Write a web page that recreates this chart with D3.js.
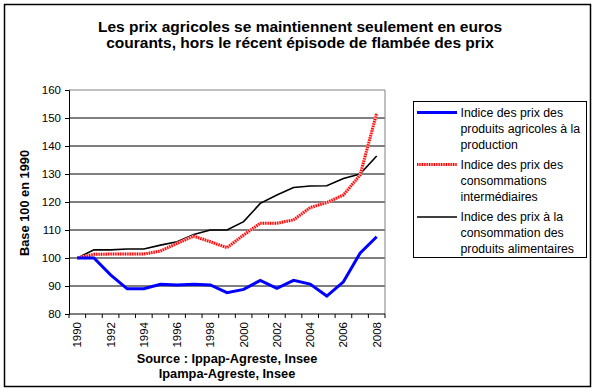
<!DOCTYPE html>
<html><head><meta charset="utf-8">
<script src="https://cdn.jsdelivr.net/npm/d3@7"></script>
<style>body{margin:0;background:#fff}svg{display:block;font-family:"Liberation Sans",Arial,sans-serif}</style>
</head><body><svg id="c" width="597" height="392"></svg>
<script>
const years = [1990,1991,1992,1993,1994,1995,1996,1997,1998,1999,2000,2001,2002,2003,2004,2005,2006,2007,2008];
const agri = [100,100,94,89,89,90.6,90.4,90.6,90.4,87.6,88.8,92,89.2,92,90.7,86.4,91.5,101.7,107.6];
const conso = [100,101.3,101.4,101.4,101.4,102.5,105.2,107.8,105.8,103.7,108.2,112.4,112.4,113.6,118,119.8,122.5,129.6,151.7];
const alim = [100,102.9,102.9,103.2,103.2,104.6,105.8,108.4,110,110,113,119.5,122.5,125.2,125.7,125.8,128.4,130,136.4];
const yTicks = [80,90,100,110,120,130,140,150,160];
const xTickLabels = [1990,1992,1994,1996,1998,2000,2002,2004,2006,2008];
const seriesNames = [
  ["Indice des prix des","produits agricoles à la","production"],
  ["Indice des prix des","consommations","intermédiaires"],
  ["Indice des prix à la","consommation des","produits alimentaires"]
];
const titleLines = ["Les prix agricoles se maintiennent seulement en euros","courants, hors le récent épisode de flambée des prix"];
const sourceLines = ["Source : Ippap-Agreste, Insee","Ipampa-Agreste, Insee"];

const svg = d3.select("#c");
svg.append("rect").attr("x",4.5).attr("y",4.5).attr("width",586).attr("height",382)
  .attr("fill","#fff").attr("stroke","#000").attr("stroke-width",1.5);

const L=69, R=385, T=90, B=314;
const x = d3.scaleBand().domain(years).range([L,R]);
const y = d3.scaleLinear().domain([80,160]).range([B,T]);
const cx = d => x(d)+x.bandwidth()/2;

// gridlines
svg.append("g").selectAll("line").data(yTicks.filter(v=>v>80&&v<160)).join("line")
  .attr("x1",L).attr("x2",R).attr("y1",d=>y(d)).attr("y2",d=>y(d)).attr("stroke","#000").attr("stroke-width",1);
// plot border top/right gray
svg.append("path").attr("d",`M${L},${T}H${R}V${B}`).attr("fill","none").attr("stroke","#808080").attr("stroke-width",1);

// y axis
const ya = svg.append("g").attr("transform",`translate(${L},0)`)
  .call(d3.axisLeft(y).tickValues(yTicks).tickSize(4).tickPadding(4));
ya.selectAll("text").attr("font-size",11.5).attr("font-family","Liberation Sans, Arial").attr("fill","#000");
ya.selectAll("line,path").attr("stroke","#000");

// x axis
const xa = svg.append("g").attr("transform",`translate(0,${B})`);
xa.append("line").attr("x1",L).attr("x2",R).attr("y1",0).attr("y2",0).attr("stroke","#000");
const edges = years.map(d=>x(d)).concat([R]);
xa.selectAll("line.t").data(edges).join("line").attr("class","t")
  .attr("x1",d=>d).attr("x2",d=>d).attr("y1",0).attr("y2",4).attr("stroke","#000");
xa.selectAll("text").data(xTickLabels).join("text")
  .attr("transform",d=>`translate(${cx(d)+4},8) rotate(-90)`)
  .attr("text-anchor","end").attr("font-size",11.5).attr("fill","#000").text(d=>d);

// lines
const line = d3.line().x((d,i)=>cx(years[i])).y(d=>y(d));
svg.append("path").datum(alim).attr("d",line).attr("fill","none").attr("stroke","#000").attr("stroke-width",1.6);
svg.append("path").datum(conso).attr("d",line).attr("fill","none").attr("stroke","#ffb3b3").attr("stroke-width",3);
svg.append("path").datum(conso).attr("d",line).attr("fill","none").attr("stroke","#ff0000").attr("stroke-width",3).attr("stroke-dasharray","1.2 1.2");
svg.append("path").datum(agri).attr("d",line).attr("fill","none").attr("stroke","#0000ff").attr("stroke-width",3);

// title
svg.append("g").selectAll("text").data(titleLines).join("text")
  .attr("x",300).attr("y",(d,i)=>32+i*15.5).attr("text-anchor","middle")
  .attr("font-size",15.5).attr("font-weight","bold").attr("fill","#000").text(d=>d);

// y title
svg.append("text").attr("transform","translate(29,203) rotate(-90)").attr("text-anchor","middle")
  .attr("font-size",12.8).attr("font-weight","bold").text("Base 100 en 1990");

// source
svg.append("g").selectAll("text").data(sourceLines).join("text")
  .attr("x",227).attr("y",(d,i)=>363+i*15).attr("text-anchor","middle")
  .attr("font-size",12.8).attr("font-weight","bold").text(d=>d);

// legend
const lg = svg.append("g");
lg.append("rect").attr("x",413.5).attr("y",101.5).attr("width",173).attr("height",156)
  .attr("fill","#fff").attr("stroke","#000").attr("stroke-width",1);
const styles = [
  {c:"#0000ff",w:3},{c:"#ff0000",w:3,dash:"1.2 1.2",under:"#ffb3b3"},{c:"#000",w:1.6}
];
const ly = [112.5,164.5,217];
seriesNames.forEach((lines,k)=>{
  const s=styles[k];
  if(s.under) lg.append("line").attr("x1",417).attr("x2",457).attr("y1",ly[k]).attr("y2",ly[k]).attr("stroke",s.under).attr("stroke-width",s.w);
  lg.append("line").attr("x1",417).attr("x2",457).attr("y1",ly[k]).attr("y2",ly[k])
    .attr("stroke",s.c).attr("stroke-width",s.w).attr("stroke-dasharray",s.dash||null);
  lines.forEach((t,j)=>{
    lg.append("text").attr("x",460.5).attr("y",ly[k]+4+j*16).attr("font-size",12.3).attr("fill","#000").text(t);
  });
});
</script></body></html>
